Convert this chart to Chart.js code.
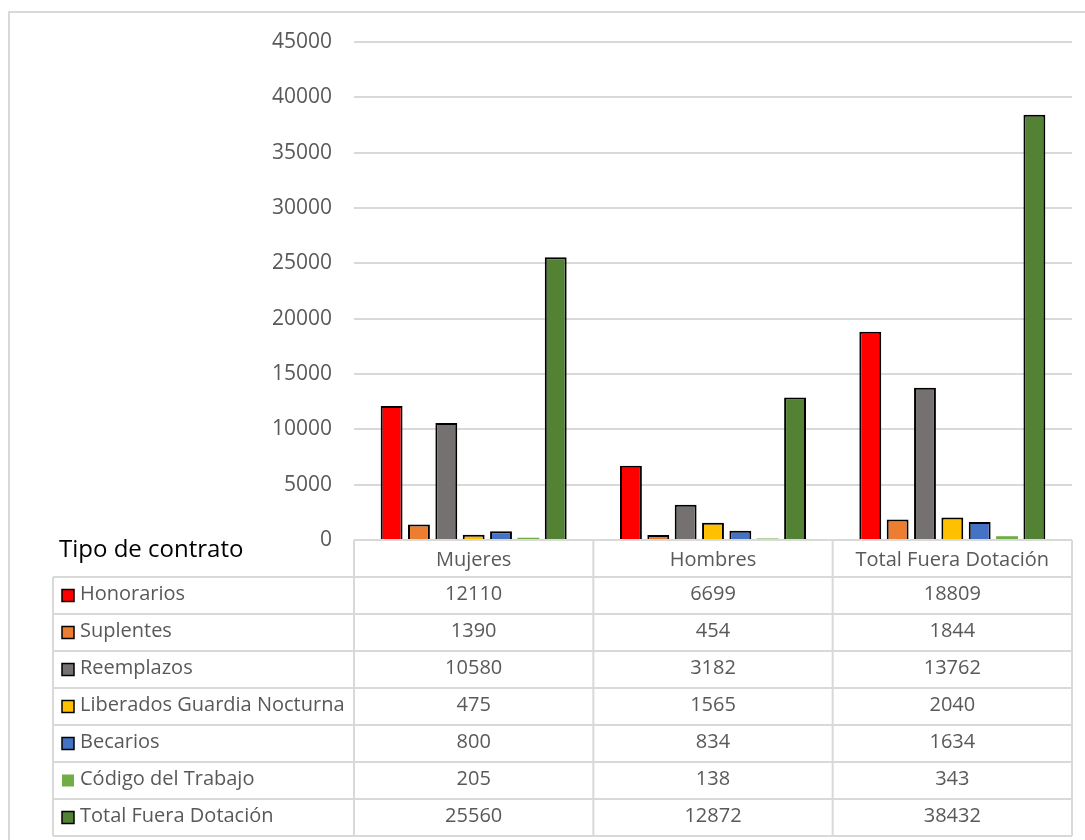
<!DOCTYPE html>
<html lang="es">
<head>
  <meta charset="utf-8">
  <style>
    body { margin: 0; background: #ffffff; }
    canvas { display: block; }
  </style>
</head>
<body>
  <canvas id="myChart" width="1085" height="840"></canvas>
  <script src="https://cdn.jsdelivr.net/npm/chart.js"></script>
  <script>
    // categories (columns of the data table)
    const groups = ['Mujeres', 'Hombres', 'Total Fuera Dotación'];

    // series, one row of the data table each
    const seriesNames = ['Honorarios', 'Suplentes', 'Reemplazos', 'Liberados Guardia Nocturna', 'Becarios', 'Código del Trabajo', 'Total Fuera Dotación'];
    const honorarios = [12110, 6699, 18809];
    const suplentes = [1390, 454, 1844];
    const reemplazos = [10580, 3182, 13762];
    const liberados = [475, 1565, 2040];
    const becarios = [800, 834, 1634];
    const codigoTrabajo = [205, 138, 343];
    const totalFuera = [25560, 12872, 38432];

    const tableTitle = 'Tipo de contrato';
    const yTicks = [0, 5000, 10000, 15000, 20000, 25000, 30000, 35000, 40000, 45000];

    const COLORS = ['#ff0000', '#ed7d31', '#767171', '#ffc000', '#4472c4', '#70ad47', '#548235'];
    const values = [honorarios, suplentes, reemplazos, liberados, becarios, codigoTrabajo, totalFuera];

    const FONT = '"Open Sans", "Noto Sans", sans-serif';
    const TEXT = '#595959';
    const LINE = '#d9d9d9';

    /* ------------------------------------------------ */

    const datasets = seriesNames.map((name, i) => ({
      label: name,
      data: values[i],
      backgroundColor: COLORS[i],
      borderColor: i == 5 ? COLORS[i] : '#000000',
      borderWidth: i == 5 ? 0 : 2,
      barPercentage: 0.8,
      categoryPercentage: 0.8
    }));

    // draws the outer frame and the data table under the plot
    const dataTable = {
      id: 'dataTable',
      beforeDraw(chart) {
        const ctx = chart.ctx;
        ctx.save();
        ctx.strokeStyle = LINE;
        ctx.lineWidth = 2;
        ctx.beginPath();
        ctx.moveTo(9, 900);
        ctx.lineTo(9, 12);
        ctx.lineTo(1100, 12);
        ctx.stroke();
        ctx.restore();
      },
      afterDraw(chart) {
        const ctx = chart.ctx;
        const x = chart.scales.x;
        const area = chart.chartArea;
        const rowH = 37;
        const top = area.bottom;
        const labelLeft = 53;
        const colW = (area.right - area.left) / groups.length;
        const bottom = top + rowH * (seriesNames.length + 1);

        ctx.save();
        ctx.strokeStyle = LINE;
        ctx.lineWidth = 2;
        ctx.beginPath();
        // header top line
        ctx.moveTo(area.left, top);
        ctx.lineTo(area.right, top);
        for (let r = 1; r <= seriesNames.length + 1; r++) {
          ctx.moveTo(labelLeft, top + r * rowH);
          ctx.lineTo(area.right, top + r * rowH);
        }
        ctx.moveTo(labelLeft, top + rowH);
        ctx.lineTo(labelLeft, bottom);
        for (let c = 0; c <= groups.length; c++) {
          ctx.moveTo(area.left + c * colW, top);
          ctx.lineTo(area.left + c * colW, bottom);
        }
        ctx.stroke();

        // title
        ctx.fillStyle = '#000000';
        ctx.font = '24px ' + FONT;
        ctx.textAlign = 'left';
        ctx.textBaseline = 'middle';
        ctx.fillText(tableTitle, 59, top + 10);

        // header
        ctx.fillStyle = TEXT;
        ctx.font = '20px ' + FONT;
        ctx.textAlign = 'center';
        groups.forEach((g, c) => {
          ctx.fillText(g, x.getPixelForValue(c), top + rowH / 2 + 2);
        });

        // rows
        seriesNames.forEach((name, r) => {
          const cy = top + rowH * (r + 1) + rowH / 2;
          ctx.fillStyle = COLORS[r];
          ctx.fillRect(62, cy - 6, 12, 12);
          if (r != 5) {
            ctx.strokeStyle = '#000000';
            ctx.lineWidth = 1.5;
            ctx.strokeRect(62, cy - 6, 12, 12);
          }
          ctx.fillStyle = TEXT;
          ctx.textAlign = 'left';
          ctx.fillText(name, 80, cy - 1);
          ctx.textAlign = 'center';
          values[r].forEach((v, c) => {
            ctx.fillText(String(v), x.getPixelForValue(c), cy - 1);
          });
        });
        ctx.restore();
      }
    };

    new Chart(document.getElementById('myChart'), {
      type: 'bar',
      data: { labels: groups, datasets: datasets },
      plugins: [dataTable],
      options: {
        responsive: false,
        animation: false,
        layout: { padding: { left: 0, top: 42, right: 13, bottom: 300 } },
        plugins: {
          legend: { display: false },
          tooltip: { enabled: false }
        },
        scales: {
          x: { display: false },
          y: {
            min: 0,
            max: 45000,
            afterFit(scale) { scale.width = 354; },
            afterBuildTicks(scale) { scale.ticks = yTicks.map(v => ({ value: v })); },
            border: { display: false },
            grid: { color: LINE, lineWidth: 2, drawTicks: false },
            ticks: {
              padding: 22,
              color: TEXT,
              font: { family: FONT, size: 21 },
              callback: v => String(v)
            }
          }
        }
      }
    });
  </script>
</body>
</html>
